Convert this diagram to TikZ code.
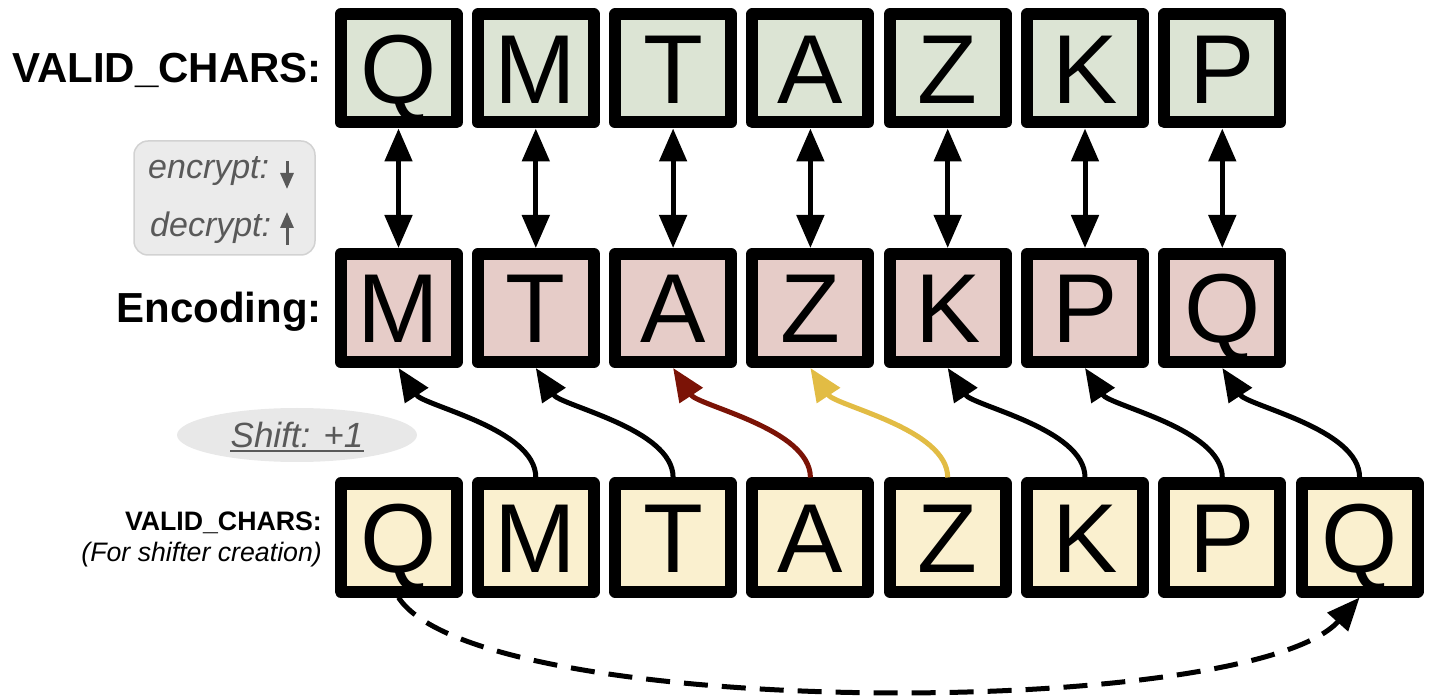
\documentclass[tikz,border=0pt]{standalone}
\usepackage{fontspec}
\setmainfont{Liberation Sans}
\usetikzlibrary{arrows.meta,shapes.geometric}
\definecolor{topfill}{HTML}{DCE4D4}
\definecolor{midfill}{HTML}{E6CCC8}
\definecolor{botfill}{HTML}{FAF0CF}
\definecolor{legfill}{HTML}{EBEBEB}
\definecolor{legdraw}{HTML}{D2D2D2}
\definecolor{txtgray}{HTML}{595959}
\definecolor{arrred}{HTML}{7B1306}
\definecolor{arryel}{HTML}{E2BC44}
\definecolor{ellfill}{HTML}{E8E8E8}
\begin{document}
\begin{tikzpicture}[x=1pt,y=-1pt,
  letterbox/.style={draw=black, line width=12pt, line join=round, outer sep=6pt,
    minimum width=116pt, minimum height=108pt, inner sep=0pt,
    text height=70pt, text depth=0pt, font=\fontsize{98}{100}\selectfont},
  bigtip/.tip={Triangle[length=33pt,width=27pt]},
  vlink/.style={line width=5pt, bigtip-bigtip},
  link/.style={line width=5pt, -bigtip},
  lbl/.style={anchor=base east, inner sep=0pt},
  legtext/.style={anchor=base west, inner sep=0pt, text=txtgray,
    font=\fontsize{34}{36}\selectfont\itshape},
  legarrow/.style={draw=txtgray, line width=3pt, -{Triangle[length=16pt,width=13pt]}}
]
\useasboundingbox (0,0) rectangle (1433,700);

% rows
\foreach \l [count=\i from 0] in {Q,M,T,A,Z,K,P}
  \node[letterbox, fill=topfill] (t\i) at ({398.5+\i*137.3},68.5) {\l};
\foreach \l [count=\i from 0] in {M,T,A,Z,K,P,Q}
  \node[letterbox, fill=midfill] (m\i) at ({398.5+\i*137.3},308) {\l};
\foreach \l [count=\i from 0] in {Q,M,T,A,Z,K,P,Q}
  \node[letterbox, fill=botfill] (b\i) at ({398.5+\i*137.3},537.5) {\l};

% labels
\node[lbl, font=\fontsize{42}{44}\selectfont\bfseries] (lab1) at (322,83) {VALID\_CHARS:};
\node[lbl, font=\fontsize{42}{44}\selectfont\bfseries] (lab2) at (322,323) {Encoding:};
\node[lbl, font=\fontsize{26.7}{28}\selectfont\bfseries] (lab3) at (322,530) {VALID\_CHARS:};
\node[lbl, font=\fontsize{26.7}{28}\selectfont\itshape] (lab4) at (322,561) {(For shifter creation)};

% legend
\node[draw=legdraw, fill=legfill, rounded corners=14pt, line width=1.5pt,
  minimum width=181pt, minimum height=114pt, inner sep=0pt] (leg) at (224.5,198) {};
\node[legtext] (enc) at (148,179) {encrypt:};
\node[legtext] (dec) at (150,237) {decrypt:};
\coordinate (ea1) at (287,161);
\coordinate (ea2) at (287,189);
\coordinate (da1) at (287,245);
\coordinate (da2) at (287,212);
\draw[legarrow] (ea1) -- (ea2);
\draw[legarrow] (da1) -- (da2);

% shift ellipse
\node[ellipse, fill=ellfill, minimum width=240pt, minimum height=54pt, inner sep=0pt] (shiftbg) at (297,435) {};
\node[anchor=base, inner sep=0pt, text=txtgray, font=\fontsize{35}{37}\selectfont\itshape] (shl) at (297,448) {Shift: +1};
\draw[txtgray, line width=2.2pt] ([yshift=-3pt]shl.base west) -- ([yshift=-3pt]shl.base east);

% vertical double arrows
\foreach \i in {0,...,6}
  \draw[vlink] (t\i) -- (m\i);

% curved arrows bottom -> middle
\foreach \i/\c in {0/black,1/black,2/arrred,3/arryel,4/black,5/black,6/black}{
  \pgfmathtruncatemacro{\j}{\i+1}
  \draw[link, color=\c] (b\j.north) .. controls +(0,-49) and +(25,38) .. (m\i.south);
}

% dashed wrap-around arrow
\draw[line width=5pt, dash pattern=on 24pt off 14pt, -bigtip]
  (b0.south) .. controls +(80,123) and +(-110,123) .. (b7.south);
\end{tikzpicture}
\end{document}
